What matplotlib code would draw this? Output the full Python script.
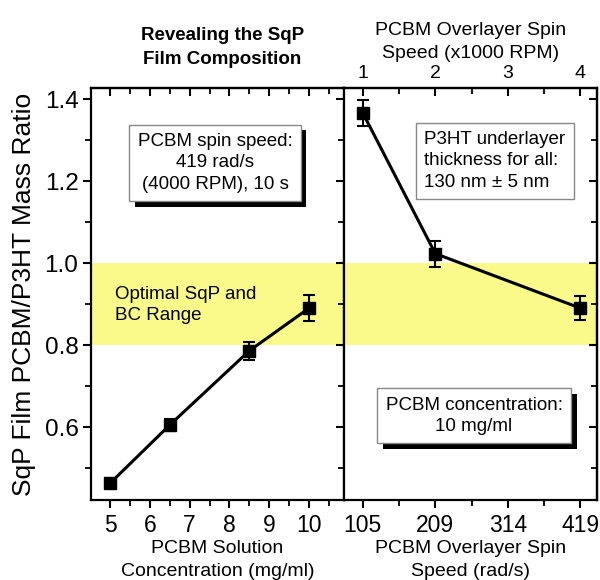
import numpy as np
import matplotlib
matplotlib.use('Agg')
import matplotlib.pyplot as plt
import matplotlib.patheffects as pe
from matplotlib.ticker import MultipleLocator, FixedLocator

plt.rcParams['font.family'] = ['Liberation Sans', 'DejaVu Sans']

# data
conc = [5, 6.5, 8.5, 10]
ratio_conc = [0.463, 0.605, 0.786, 0.890]
err_conc = [0.010, 0.015, 0.022, 0.032]

krpm = [1, 2, 4]
ratio_spin = [1.366, 1.023, 0.890]
err_spin = [0.031, 0.032, 0.030]

rad_ticks = [1, 2, 3, 4]
rad_labels = ['105', '209', '314', '419']

RAD = 2 * np.pi * 1000 / 60.0   # rad/s per 1000 RPM

band_lo, band_hi = 0.8, 1.0
yellow = '#fafa8a'
lw_ax = 1.6
box_fs = 13.5
box_ls = 1.32

fig = plt.figure(figsize=(6, 5.8), dpi=100)
axL = fig.add_axes([91/600, 80/580, 253/600, 412/580])
axR = fig.add_axes([344/600, 80/580, 253/600, 412/580], sharey=axL)

for ax in (axL, axR):
    ax.axhspan(band_lo, band_hi, color=yellow, lw=0, zorder=0)
    for s in ax.spines.values():
        s.set_linewidth(lw_ax)

axL.set_ylim(0.422, 1.427)
axL.set_xlim(4.52, 10.88)

# ---------------- left panel ----------------
axL.errorbar(conc, ratio_conc, yerr=err_conc, color='k', lw=2.2, marker='s',
             ms=8.5, capsize=4, elinewidth=1.5, capthick=1.5, zorder=3)
axL.xaxis.set_major_locator(MultipleLocator(1))
axL.xaxis.set_minor_locator(MultipleLocator(0.5))
axL.yaxis.set_major_locator(MultipleLocator(0.2))
axL.yaxis.set_minor_locator(MultipleLocator(0.1))
axL.yaxis.set_major_formatter(plt.FuncFormatter(lambda v, p: '%.1f' % v))
axL.tick_params(axis='both', which='major', direction='out', length=6, width=1.5)
axL.tick_params(axis='both', which='minor', direction='out', length=4, width=1.3)
axL.tick_params(axis='y', labelsize=17.5, pad=3)
axL.tick_params(axis='x', labelsize=16.5, pad=4)

topL = axL.secondary_xaxis('top')
topL.xaxis.set_major_locator(MultipleLocator(1))
topL.xaxis.set_minor_locator(MultipleLocator(0.5))
topL.tick_params(which='major', direction='in', length=6, width=1.5, labeltop=False)
topL.tick_params(which='minor', direction='in', length=4, width=1.3)
topL.spines['top'].set_linewidth(lw_ax)

rgtL = axL.secondary_yaxis('right')
rgtL.yaxis.set_major_locator(MultipleLocator(0.2))
rgtL.yaxis.set_minor_locator(MultipleLocator(0.1))
rgtL.tick_params(which='major', direction='in', length=6, width=1.5, labelright=False)
rgtL.tick_params(which='minor', direction='in', length=4, width=1.3)

axL.set_ylabel('SqP Film PCBM/P3HT Mass Ratio', fontsize=19, labelpad=6)
axL.set_xlabel('PCBM Solution\nConcentration (mg/ml)', fontsize=14, labelpad=2,
               linespacing=1.5)
axL.set_title('Revealing the SqP\nFilm Composition', fontsize=13.5, fontweight='bold',
              pad=17, linespacing=1.55, x=0.52)

t1 = axL.text(0.49, 0.818, 'PCBM spin speed:\n419 rad/s\n(4000 RPM), 10 s',
              transform=axL.transAxes, ha='center', va='center', fontsize=box_fs,
              linespacing=box_ls,
              bbox=dict(boxstyle='square,pad=0.45', fc='white', ec='#888888', lw=1))
t1.get_bbox_patch().set_path_effects([
    pe.SimplePatchShadow(offset=(4, -4), shadow_rgbFace='k', alpha=1), pe.Normal()])

axL.text(0.095, 0.473, 'Optimal SqP and\nBC Range', transform=axL.transAxes,
         ha='left', va='center', fontsize=box_fs, linespacing=box_ls)

# ---------------- right panel ----------------
rad = [k * RAD for k in krpm]
axR.errorbar(rad, ratio_spin, yerr=err_spin, color='k', lw=2.2, marker='s',
             ms=8.5, capsize=4, elinewidth=1.5, capthick=1.5, zorder=3)
axR.set_xlim(0.74 * RAD, 4.23 * RAD)
axR.xaxis.set_major_locator(FixedLocator([k * RAD for k in rad_ticks]))
axR.xaxis.set_minor_locator(FixedLocator([(k + 0.5) * RAD for k in rad_ticks]))
axR.set_xticklabels(rad_labels)
axR.tick_params(axis='x', which='major', direction='out', length=6, width=1.5,
                labelsize=16.5, pad=4)
axR.tick_params(axis='x', which='minor', direction='out', length=4, width=1.3)
axR.tick_params(axis='y', which='both', left=False, labelleft=False)

topR = axR.secondary_xaxis('top', functions=(lambda x: x / RAD, lambda x: x * RAD))
topR.xaxis.set_major_locator(FixedLocator(rad_ticks))
topR.xaxis.set_minor_locator(MultipleLocator(0.5))
topR.tick_params(which='major', direction='in', length=6, width=1.5, labelsize=14, pad=4)
topR.tick_params(which='minor', direction='in', length=4, width=1.3)
topR.spines['top'].set_linewidth(lw_ax)
topR.set_xlabel('PCBM Overlayer Spin\nSpeed (x1000 RPM)', fontsize=14, labelpad=5,
                linespacing=1.5)

rgtR = axR.secondary_yaxis('right')
rgtR.yaxis.set_major_locator(MultipleLocator(0.2))
rgtR.yaxis.set_minor_locator(MultipleLocator(0.1))
rgtR.tick_params(which='major', direction='in', length=6, width=1.5, labelright=False)
rgtR.tick_params(which='minor', direction='in', length=4, width=1.3)
rgtR.spines['right'].set_linewidth(lw_ax)

axR.set_xlabel('PCBM Overlayer Spin\nSpeed (rad/s)', fontsize=14, labelpad=2,
               linespacing=1.5)

axR.text(0.318, 0.823, 'P3HT underlayer\nthickness for all:\n130 nm \u00b1 5 nm',
         transform=axR.transAxes, ha='left', va='center', fontsize=box_fs,
         linespacing=box_ls,
         bbox=dict(boxstyle='square,pad=0.45', fc='white', ec='#888888', lw=1))

t3 = axR.text(0.514, 0.204, 'PCBM concentration:\n10 mg/ml', transform=axR.transAxes,
              ha='center', va='center', fontsize=box_fs, linespacing=box_ls,
              bbox=dict(boxstyle='square,pad=0.45', fc='white', ec='#888888', lw=1))
t3.get_bbox_patch().set_path_effects([
    pe.SimplePatchShadow(offset=(4, -4), shadow_rgbFace='k', alpha=1), pe.Normal()])

fig.savefig('out.png', dpi=100)
